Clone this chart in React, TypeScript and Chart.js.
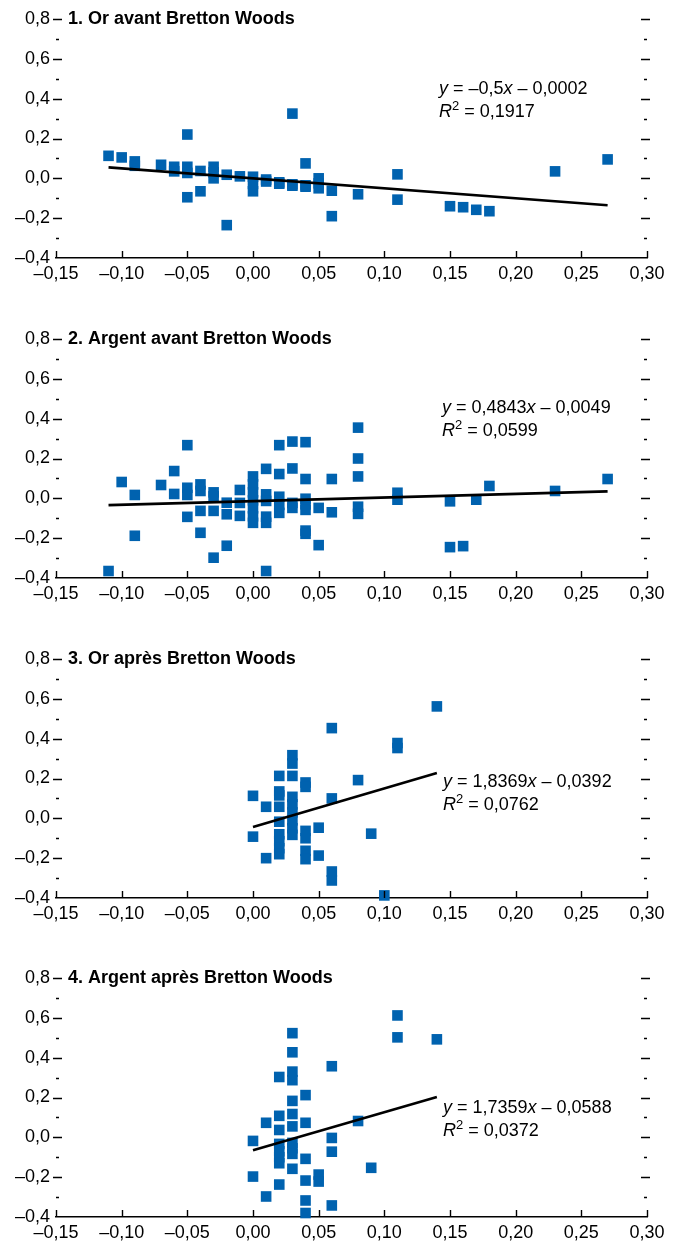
import React, { useEffect, useRef } from 'react';
import { Chart, registerables } from 'chart.js';

Chart.register(...registerables);

// ---------- data ----------
const TITLES = [
  '1. Or avant Bretton Woods',
  '2. Argent avant Bretton Woods',
  '3. Or après Bretton Woods',
  '4. Argent après Bretton Woods',
];
const EQ_SLOPE = ['–0,5', '0,4843', '1,8369', '1,7359'];
const EQ_INTERCEPT = ['0,0002', '0,0049', '0,0392', '0,0588'];
const EQ_R2 = ['0,1917', '0,0599', '0,0762', '0,0372'];

const X1 = [-0.11, -0.10, -0.09, -0.09, -0.07, -0.06, -0.06, -0.05, -0.05, -0.05, -0.05, -0.04, -0.04, -0.03, -0.03, -0.03, -0.02, -0.02, -0.01, 0, 0, 0, 0.01, 0.01, 0.02, 0.02, 0.03, 0.03, 0.03, 0.04, 0.04, 0.04, 0.05, 0.05, 0.05, 0.06, 0.06, 0.08, 0.11, 0.11, 0.15, 0.16, 0.17, 0.18, 0.23, 0.27];
const Y1 = [0.113, 0.105, 0.085, 0.063, 0.068, 0.058, 0.035, 0.22, 0.058, 0.027, -0.095, 0.037, -0.065, 0.058, 0.03, 0.0, 0.018, -0.235, 0.01, 0.008, -0.028, -0.065, -0.006, -0.016, -0.02, -0.027, 0.325, -0.03, -0.037, 0.075, -0.035, -0.042, 0.0, -0.025, -0.05, -0.062, -0.19, -0.08, 0.02, -0.107, -0.14, -0.145, -0.158, -0.165, 0.035, 0.095];
const TREND_X1 = [-0.11, 0.27];
const TREND_Y1 = [0.055, -0.135];

const X2 = [-0.11, -0.10, -0.09, -0.09, -0.07, -0.06, -0.06, -0.05, -0.05, -0.05, -0.05, -0.04, -0.04, -0.04, -0.04, -0.03, -0.03, -0.03, -0.03, -0.02, -0.02, -0.02, -0.01, -0.01, -0.01, 0, 0, 0, 0, 0, 0, 0, 0.01, 0.01, 0.01, 0.01, 0.01, 0.01, 0.02, 0.02, 0.02, 0.02, 0.02, 0.03, 0.03, 0.03, 0.03, 0.04, 0.04, 0.04, 0.04, 0.04, 0.04, 0.04, 0.05, 0.05, 0.06, 0.06, 0.08, 0.08, 0.08, 0.08, 0.08, 0.11, 0.11, 0.15, 0.15, 0.16, 0.17, 0.18, 0.23, 0.27];
const Y2 = [-0.365, 0.082, 0.017, -0.188, 0.067, 0.137, 0.022, 0.267, 0.053, 0.017, -0.093, 0.07, 0.037, -0.063, -0.173, 0.03, 0.01, -0.063, -0.298, -0.022, -0.08, -0.238, 0.042, -0.023, -0.088, 0.11, 0.07, 0.03, -0.01, -0.05, -0.09, -0.123, 0.148, 0.02, -0.013, -0.092, -0.123, -0.365, 0.267, 0.122, 0.008, -0.033, -0.073, 0.285, 0.15, -0.023, -0.048, 0.282, 0.097, -0.002, -0.03, -0.058, -0.162, -0.178, -0.048, -0.235, 0.097, -0.07, 0.355, 0.2, 0.11, -0.042, -0.078, 0.028, -0.007, -0.015, -0.245, -0.24, -0.007, 0.062, 0.037, 0.097];
const TREND_X2 = [-0.11, 0.27];
const TREND_Y2 = [-0.034, 0.035];

const X3 = [0, 0, 0.01, 0.01, 0.02, 0.02, 0.02, 0.02, 0.02, 0.02, 0.02, 0.02, 0.02, 0.03, 0.03, 0.03, 0.03, 0.03, 0.03, 0.03, 0.03, 0.03, 0.04, 0.04, 0.04, 0.04, 0.04, 0.04, 0.05, 0.05, 0.06, 0.06, 0.06, 0.06, 0.08, 0.09, 0.10, 0.11, 0.11, 0.14];
const Y3 = [0.113, -0.092, 0.058, -0.2, 0.213, 0.135, 0.115, 0.058, -0.017, -0.08, -0.115, -0.15, -0.18, 0.317, 0.275, 0.213, 0.108, 0.07, 0.03, -0.01, -0.05, -0.083, 0.18, 0.158, -0.063, -0.1, -0.163, -0.205, -0.047, -0.187, 0.453, 0.1, -0.267, -0.312, 0.192, -0.077, -0.387, 0.378, 0.353, 0.562];
const TREND_X3 = [0, 0.14];
const TREND_Y3 = [-0.043, 0.228];

const X4 = [0, 0, 0.01, 0.01, 0.02, 0.02, 0.02, 0.02, 0.02, 0.02, 0.02, 0.02, 0.03, 0.03, 0.03, 0.03, 0.03, 0.03, 0.03, 0.03, 0.03, 0.03, 0.03, 0.04, 0.04, 0.04, 0.04, 0.04, 0.04, 0.05, 0.05, 0.06, 0.06, 0.06, 0.06, 0.08, 0.09, 0.11, 0.11, 0.14];
const Y4 = [-0.018, -0.197, 0.073, -0.297, 0.303, 0.108, 0.037, -0.033, -0.07, -0.1, -0.13, -0.237, 0.523, 0.427, 0.33, 0.287, 0.183, 0.117, 0.055, -0.028, -0.055, -0.083, -0.158, 0.212, 0.073, -0.108, -0.217, -0.317, -0.38, -0.187, -0.222, 0.357, -0.003, -0.072, -0.342, 0.082, -0.153, 0.612, 0.502, 0.492];
const TREND_X4 = [0, 0.14];
const TREND_Y4 = [-0.065, 0.203];

const Y_MINOR = [0.7, 0.5, 0.3, 0.1, -0.1, -0.3];
const Y_MAJOR = [0.8, 0.6, 0.4, 0.2, 0.0, -0.2];
const X_MAJOR = [-0.15, -0.10, -0.05, 0, 0.05, 0.10, 0.15, 0.20, 0.25, 0.30];

const SERIES = [
  { xs: X1, ys: Y1, tx: TREND_X1, ty: TREND_Y1 },
  { xs: X2, ys: Y2, tx: TREND_X2, ty: TREND_Y2 },
  { xs: X3, ys: Y3, tx: TREND_X3, ty: TREND_Y3 },
  { xs: X4, ys: Y4, tx: TREND_X4, ty: TREND_Y4 },
];

// ---------- layout / style ----------
const FONT = "'Liberation Sans', Arial, Helvetica, sans-serif";
const BLUE = '#0062AF';
const W = 683;
const CANVAS_TOP = [0, 320, 640, 959];
const CANVAS_H = 288;
const PLOT_TOP = 19;
const PLOT_BOTTOM = 258;
const PLOT_LEFT = 56;
const PLOT_RIGHT = 647;
const EQ_POS = [
  { x: 439, y: 89 },
  { x: 442, y: 88 },
  { x: 443, y: 142 },
  { x: 443, y: 149 },
];

function fmt(v: number, d: number) {
  const s = Math.abs(v).toFixed(d).replace('.', ',');
  return (v < -1e-9 ? '–' : '') + s;
}

function drawRich(ctx: CanvasRenderingContext2D, parts: any[], x: number, y: number) {
  let cx = x;
  for (const p of parts) {
    ctx.font = p.font;
    ctx.fillText(p.t, cx, y + (p.dy || 0));
    cx += ctx.measureText(p.t).width;
  }
}

const decor = {
  id: 'decor',
  afterDraw(chart: any, _args: any, opts: any) {
    const idx = opts.idx;
    const { ctx, chartArea, scales } = chart;
    const { left, right, bottom } = chartArea;
    const xs = scales.x;
    const ys = scales.y;
    ctx.save();
    ctx.strokeStyle = '#000';
    ctx.lineWidth = 1.4;
    ctx.beginPath();
    for (const v of Y_MAJOR) {
      const py = Math.round(ys.getPixelForValue(v)) + 0.5;
      ctx.moveTo(left - 3, py);
      ctx.lineTo(left + 6, py);
      ctx.moveTo(right - 6, py);
      ctx.lineTo(right + 3, py);
    }
    for (const v of Y_MINOR) {
      const py = Math.round(ys.getPixelForValue(v)) + 0.5;
      ctx.moveTo(left, py);
      ctx.lineTo(left + 3, py);
      ctx.moveTo(right - 3, py);
      ctx.lineTo(right, py);
    }
    for (const v of X_MAJOR) {
      const px = Math.round(xs.getPixelForValue(v)) + 0.5;
      ctx.moveTo(px, bottom);
      ctx.lineTo(px, bottom - 7);
    }
    ctx.stroke();

    ctx.fillStyle = '#000';
    ctx.textBaseline = 'middle';
    ctx.textAlign = 'left';
    ctx.font = `bold 18px ${FONT}`;
    ctx.fillText(TITLES[idx], 68, ys.getPixelForValue(0.8));

    const reg = `18px ${FONT}`;
    const it = `italic 18px ${FONT}`;
    const sup = `13px ${FONT}`;
    const pos = EQ_POS[idx];
    const slope = EQ_SLOPE[idx];
    drawRich(ctx, [
      { t: 'y', font: it },
      { t: ' = ' + slope, font: reg },
      { t: 'x', font: it },
      { t: ' – ' + EQ_INTERCEPT[idx], font: reg },
    ], pos.x, pos.y);
    drawRich(ctx, [
      { t: 'R', font: it },
      { t: '2', font: sup, dy: -6 },
      { t: ' = ' + EQ_R2[idx], font: reg },
    ], pos.x, pos.y + 23);
    ctx.restore();
  },
};

function Panel({ idx }: { idx: number }) {
  const ref = useRef<HTMLCanvasElement>(null);
  useEffect(() => {
    const s = SERIES[idx];
    const chart = new Chart(ref.current as HTMLCanvasElement, {
      type: 'scatter',
      data: {
        datasets: [
          {
            data: s.tx.map((x: number, i: number) => ({ x, y: s.ty[i] })),
            showLine: true,
            borderColor: '#000',
            borderWidth: 2.6,
            pointRadius: 0,
            pointHoverRadius: 0,
            clip: false,
            order: 0,
          } as any,
          {
            data: s.xs.map((x: number, i: number) => ({ x, y: s.ys[i] })),
            pointStyle: 'rect',
            pointRadius: 7.5,
            pointHoverRadius: 7.5,
            backgroundColor: BLUE,
            borderColor: BLUE,
            pointBorderWidth: 0,
            borderWidth: 0,
            clip: false,
            order: 1,
          } as any,
        ],
      },
      options: {
        responsive: false,
        animation: false,
        events: [],
        layout: { padding: { top: PLOT_TOP, right: W - PLOT_RIGHT, left: 0, bottom: 0 } },
        plugins: {
          legend: { display: false },
          tooltip: { enabled: false },
          decor: { idx },
        } as any,
        scales: {
          x: {
            type: 'linear',
            position: 'bottom',
            min: -0.15,
            max: 0.3,
            grid: { display: false, drawTicks: false },
            border: { display: true, color: '#000', width: 1.6 },
            ticks: {
              stepSize: 0.05,
              autoSkip: false,
              maxRotation: 0,
              minRotation: 0,
              padding: 5,
              color: '#000',
              font: { family: FONT, size: 18 },
              callback: (v: any) => fmt(Number(v), 2),
            },
            afterFit: (sc: any) => {
              sc.height = CANVAS_H - PLOT_BOTTOM;
            },
          },
          y: {
            type: 'linear',
            min: -0.4,
            max: 0.8,
            grid: { display: false, drawTicks: false },
            border: { display: false },
            ticks: {
              stepSize: 0.2,
              padding: 6,
              color: '#000',
              font: { family: FONT, size: 18 },
              callback: (v: any) => fmt(Number(v), 1),
            },
            afterFit: (sc: any) => {
              sc.width = PLOT_LEFT;
            },
          },
        },
      } as any,
      plugins: [decor],
    });
    return () => chart.destroy();
  }, [idx]);
  return (
    <canvas
      ref={ref}
      width={W}
      height={CANVAS_H}
      style={{ position: 'absolute', left: 0, top: CANVAS_TOP[idx], width: W, height: CANVAS_H, display: 'block' }}
    />
  );
}

export default function App() {
  return (
    <div style={{ position: 'absolute', left: 0, top: 0, width: W, height: 1247, overflow: 'hidden', background: '#fff' }}>
      {[0, 1, 2, 3].map((i) => (
        <Panel key={i} idx={i} />
      ))}
    </div>
  );
}
